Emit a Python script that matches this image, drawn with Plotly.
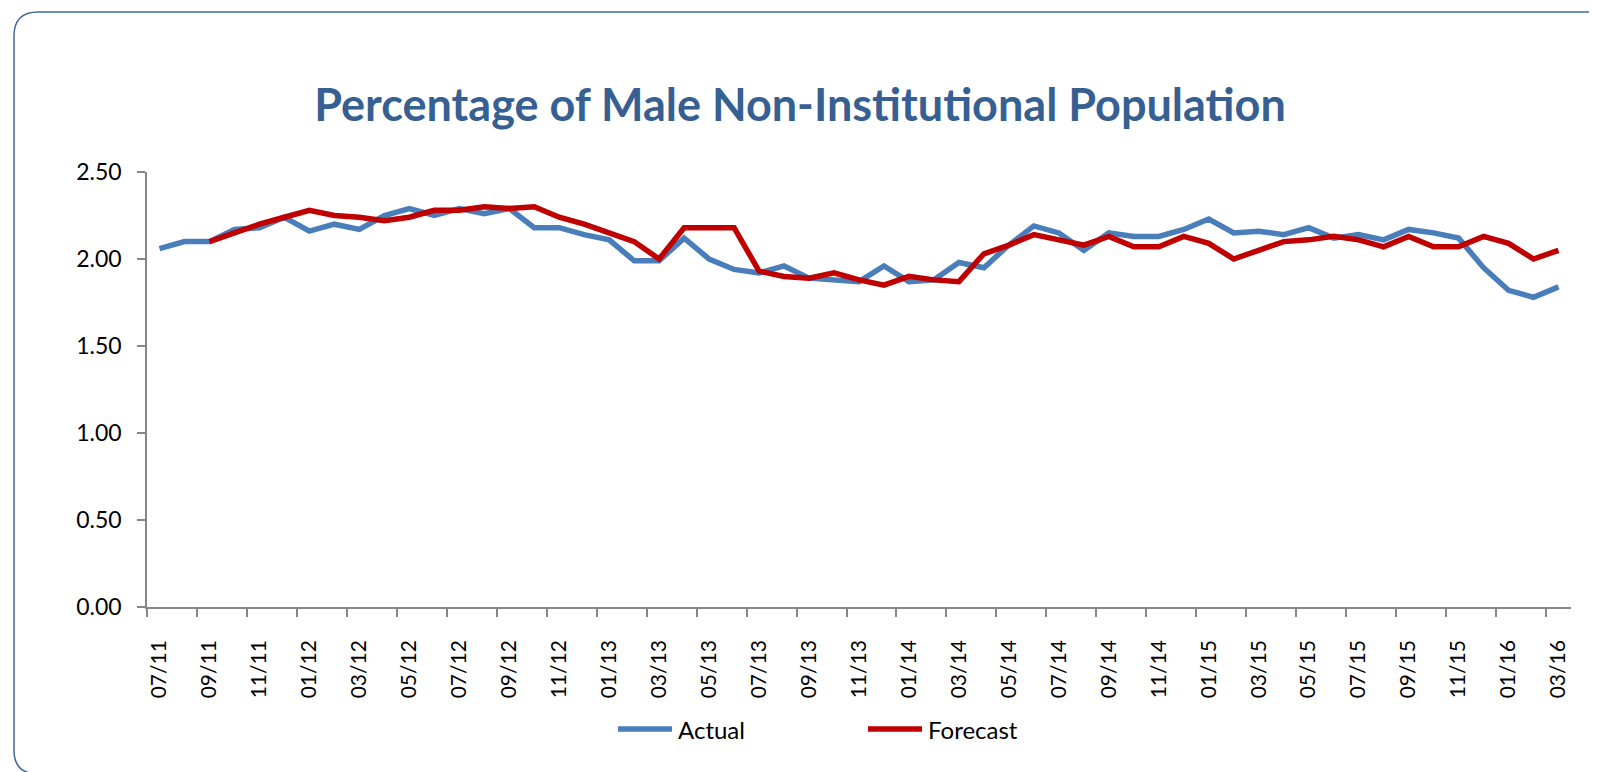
import plotly.graph_objects as go

# ----- data -----
months = [
    "07/11", "08/11", "09/11", "10/11", "11/11", "12/11",
    "01/12", "02/12", "03/12", "04/12", "05/12", "06/12",
    "07/12", "08/12", "09/12", "10/12", "11/12", "12/12",
    "01/13", "02/13", "03/13", "04/13", "05/13", "06/13",
    "07/13", "08/13", "09/13", "10/13", "11/13", "12/13",
    "01/14", "02/14", "03/14", "04/14", "05/14", "06/14",
    "07/14", "08/14", "09/14", "10/14", "11/14", "12/14",
    "01/15", "02/15", "03/15", "04/15", "05/15", "06/15",
    "07/15", "08/15", "09/15", "10/15", "11/15", "12/15",
    "01/16", "02/16", "03/16",
]

actual = [
    2.06, 2.10, 2.10, 2.17, 2.18, 2.24,
    2.16, 2.20, 2.17, 2.25, 2.29, 2.25,
    2.29, 2.26, 2.29, 2.18, 2.18, 2.14,
    2.11, 1.99, 1.99, 2.12, 2.00, 1.94,
    1.92, 1.96, 1.89, 1.88, 1.87, 1.96,
    1.87, 1.88, 1.98, 1.95, 2.08, 2.19,
    2.15, 2.05, 2.15, 2.13, 2.13, 2.17,
    2.23, 2.15, 2.16, 2.14, 2.18, 2.12,
    2.14, 2.11, 2.17, 2.15, 2.12, 1.95,
    1.82, 1.78, 1.84,
]

forecast = [
    None, None, 2.10, 2.15, 2.20, 2.24,
    2.28, 2.25, 2.24, 2.22, 2.24, 2.28,
    2.28, 2.30, 2.29, 2.30, 2.24, 2.20,
    2.15, 2.10, 2.00, 2.18, 2.18, 2.18,
    1.93, 1.90, 1.89, 1.92, 1.88, 1.85,
    1.90, 1.88, 1.87, 2.03, 2.08, 2.14,
    2.11, 2.08, 2.13, 2.07, 2.07, 2.13,
    2.09, 2.00, 2.05, 2.10, 2.11, 2.13,
    2.11, 2.07, 2.13, 2.07, 2.07, 2.13,
    2.09, 2.00, 2.05,
]

series = [("Actual", actual, "#4A7EBB"), ("Forecast", forecast, "#C00000")]

# ----- page geometry (page body has an 8px margin) -----
OFF = 8
W, H = 1597 - OFF, 772 - OFF
ML, MR, MT, MB = 147 - OFF, 26, 172 - OFF, 165
PW, PH = W - ML - MR, H - MT - MB

xs = list(range(len(months)))


def px_x(p):
    # p is a screen pixel position
    return (p - OFF - ML) / PW


def px_y(p):
    return (H - MB - (p - OFF)) / PH


# rounded chart-area border (right and bottom edges run off the page)
bl, bt, br, bb, rad = 14, 12, 1615, 774, 24
border = (
    f"M {px_x(bl)},{px_y(bb - rad)} "
    f"L {px_x(bl)},{px_y(bt + rad)} "
    f"Q {px_x(bl)},{px_y(bt)} {px_x(bl + rad)},{px_y(bt)} "
    f"L {px_x(br)},{px_y(bt)} "
    f"L {px_x(br)},{px_y(bb)} "
    f"L {px_x(bl + rad)},{px_y(bb)} "
    f"Q {px_x(bl)},{px_y(bb)} {px_x(bl)},{px_y(bb - rad)} Z"
)
shapes = [dict(
    type="path", path=border, xref="paper", yref="paper",
    line=dict(color="#41689F", width=1.5), layer="below",
)]
annotations = []

fig = go.Figure()

# traces + hand-built legend (Excel-style long line samples)
leg_x0, leg_step, leg_y, leg_len = 618, 250, 729, 54
for k, (name, vals, color) in enumerate(series):
    fig.add_trace(go.Scatter(
        x=xs, y=vals, name=name, mode="lines",
        line=dict(color=color, width=5.5),
        showlegend=False,
    ))
    lx = leg_x0 + k * leg_step
    shapes.append(dict(
        type="line", xref="paper", yref="paper",
        x0=px_x(lx), x1=px_x(lx + leg_len), y0=px_y(leg_y), y1=px_y(leg_y),
        line=dict(color=color, width=5.5),
    ))
    annotations.append(dict(
        text=name, xref="paper", yref="paper",
        x=px_x(lx + leg_len + 4), y=px_y(leg_y),
        xanchor="left", yanchor="middle", showarrow=False,
        font=dict(size=24, color="black"),
    ))

fig.update_layout(
    width=W, height=H,
    margin=dict(l=ML, r=MR, t=MT, b=MB),
    paper_bgcolor="white",
    plot_bgcolor="white",
    font=dict(family="Lato", size=23, color="black"),
    title=dict(
        text="<b>Percentage of Male Non-Institutional Population</b>",
        x=(800 - OFF) / W, xref="container", xanchor="center",
        y=1 - (105 - OFF) / H, yref="container", yanchor="middle",
        font=dict(family="Lato", size=45, color="#376092"),
    ),
    shapes=shapes,
    annotations=annotations,
)

fig.update_xaxes(
    range=[-0.5, len(months) - 0.5],
    tickmode="array",
    tickvals=xs[::2],
    ticktext=months[::2],
    tickangle=-90,
    tickfont=dict(size=21),
    ticks="",
    showgrid=False,
    zeroline=False,
    showline=True, linecolor="#868686", linewidth=1.5,
    minor=dict(
        tickmode="array",
        tickvals=[v - 0.5 for v in xs[::2]],
        ticks="outside", ticklen=8, tickcolor="#868686", tickwidth=1.5,
        showgrid=False,
    ),
    ticklabelstandoff=23,
)

fig.update_yaxes(
    range=[0, 2.5],
    dtick=0.5,
    tickformat=".2f",
    ticks="outside", ticklen=8, tickcolor="#868686", tickwidth=1.5,
    showgrid=False,
    zeroline=False,
    showline=True, linecolor="#868686", linewidth=1.5,
    ticklabelstandoff=11,
)

fig.write_html("out.html")
